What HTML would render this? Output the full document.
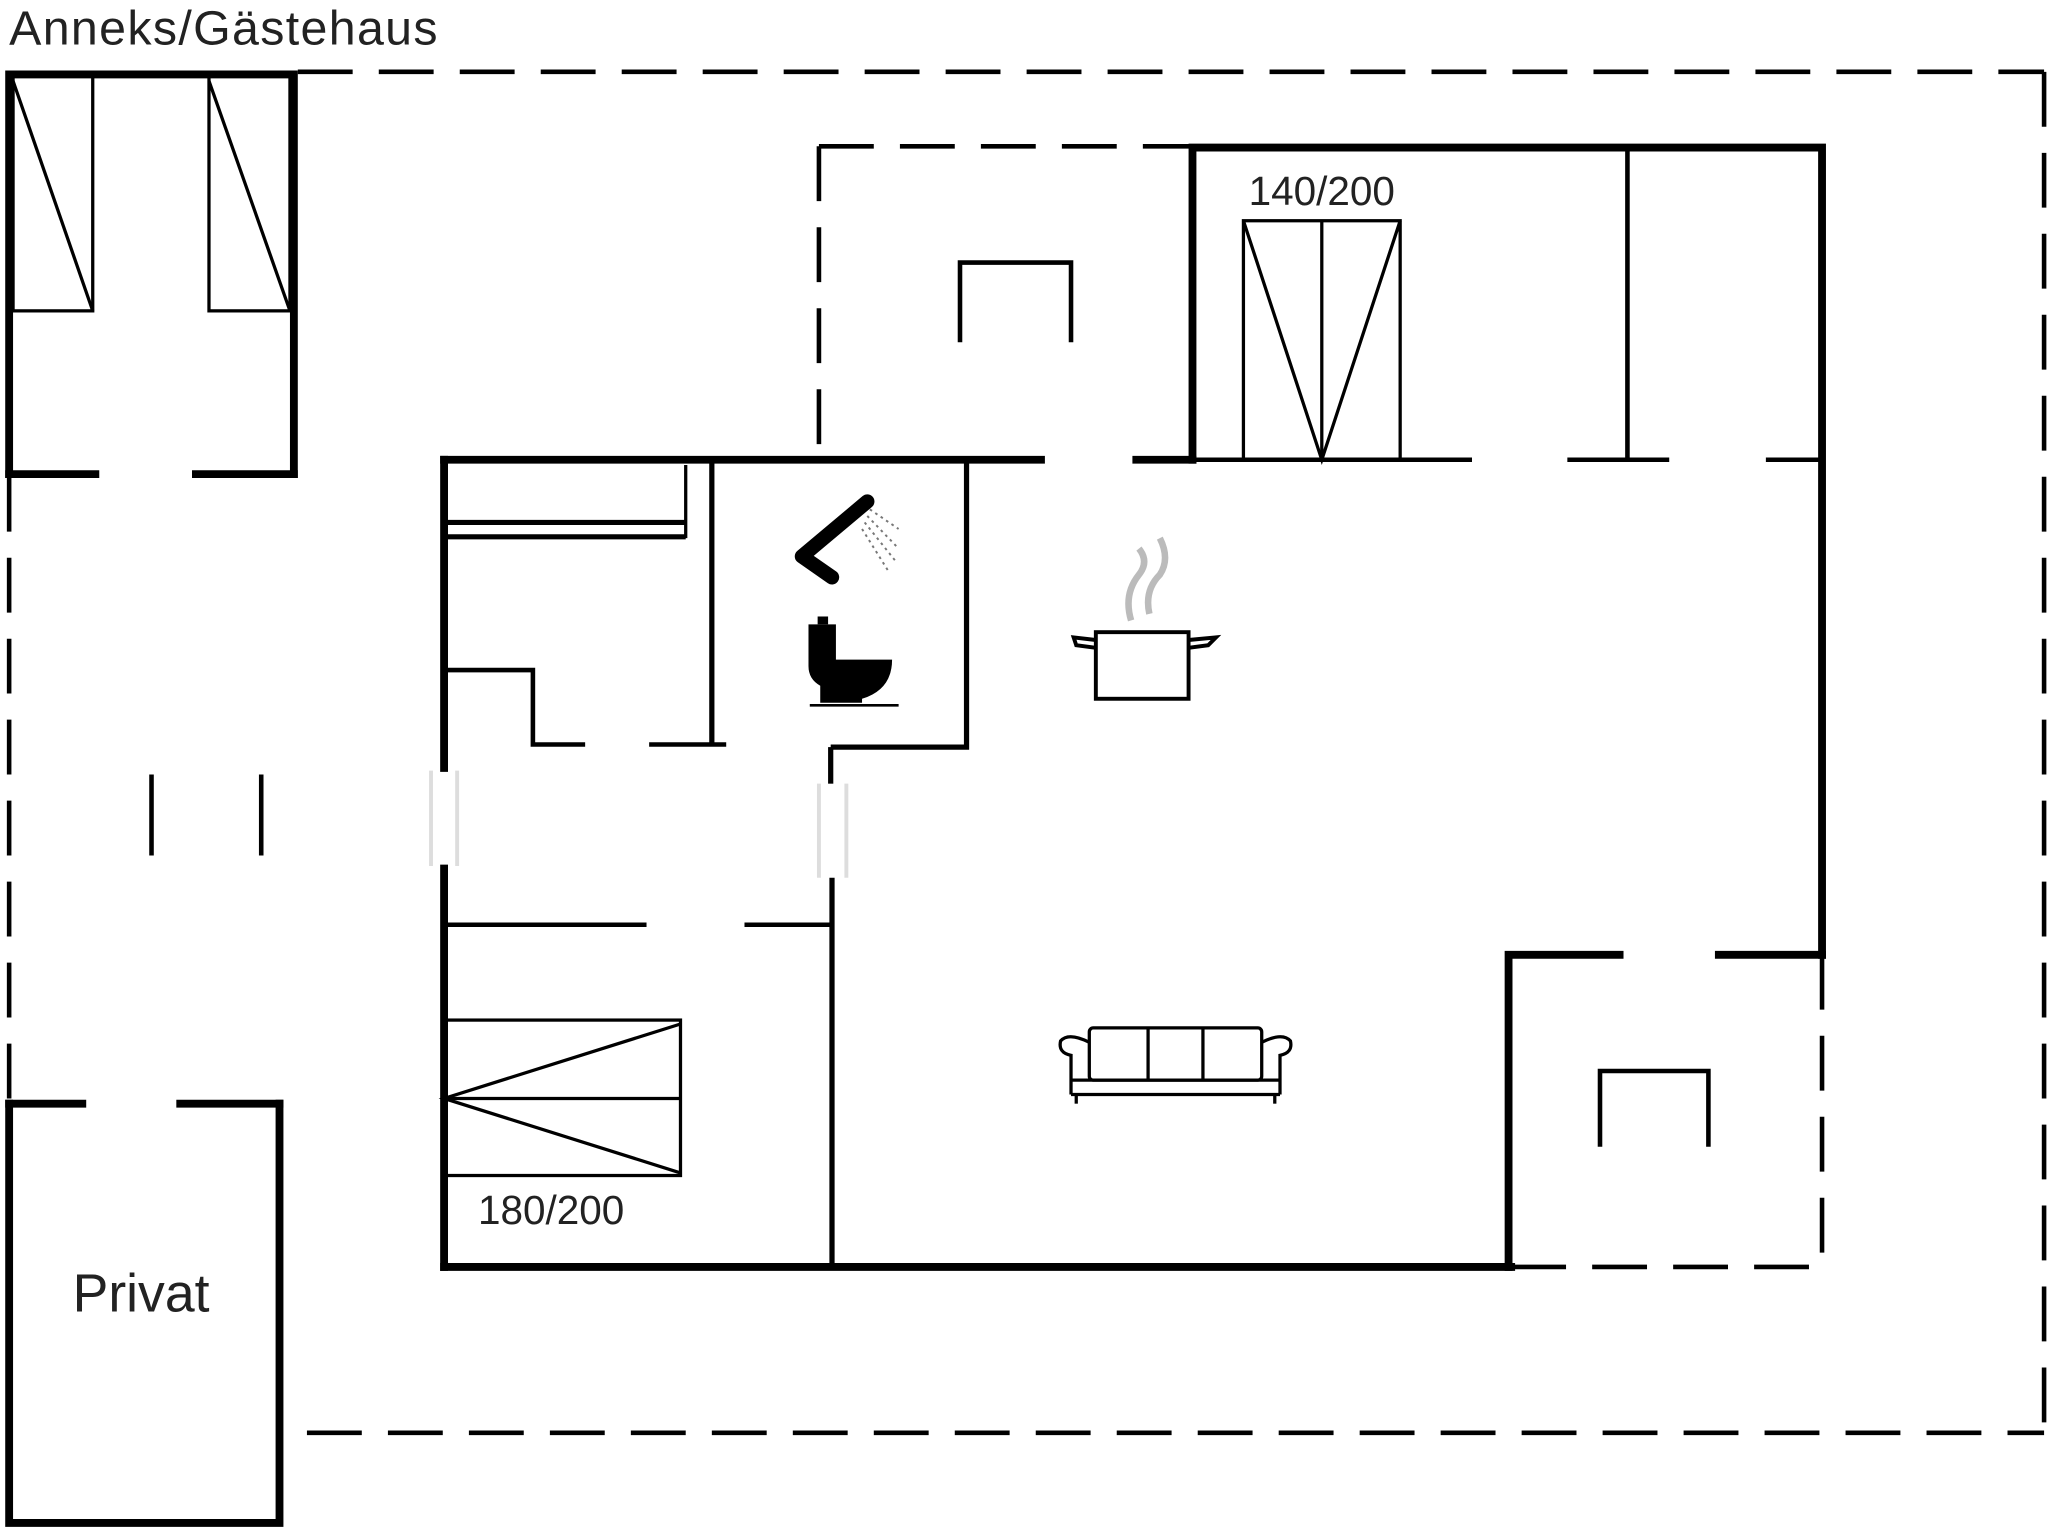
<!DOCTYPE html>
<html><head><meta charset="utf-8"><style>html,body{margin:0;padding:0;background:#fff}svg{display:block}</style></head><body>
<svg width="2048" height="1536" viewBox="0 0 1568 1176" xmlns="http://www.w3.org/2000/svg" font-family="Liberation Sans, Arial, sans-serif">
<rect width="1568" height="1176" fill="#fff"/>
<text x="7" y="34" font-size="37" fill="#222" textLength="328">Anneks/Gästehaus</text>
<g stroke="#000" fill="none" stroke-width="3.5" stroke-dasharray="42,20">
<line x1="228" y1="55" x2="1565" y2="55"/>
<line x1="1565" y1="55" x2="1565" y2="1097"/>
<line x1="235" y1="1097" x2="1565" y2="1097"/>
<line x1="7" y1="365" x2="7" y2="845"/>
<line x1="627" y1="112" x2="913" y2="112"/>
<line x1="627" y1="112" x2="627" y2="352"/>
<line x1="1395" y1="731" x2="1395" y2="970"/>
<line x1="1157" y1="970" x2="1395" y2="970"/>
</g>
<g stroke="#000" fill="none" stroke-width="6" stroke-linecap="square">
<polyline points="7,363 7,57 225,57 225,363"/>
<line x1="7" y1="363" x2="73" y2="363"/><line x1="150" y1="363" x2="225" y2="363"/>
<polyline points="7,845 7,1166 214,1166 214,845"/>
<line x1="7" y1="845" x2="63" y2="845"/><line x1="138" y1="845" x2="214" y2="845"/>
<line x1="340" y1="352" x2="797" y2="352"/><line x1="870" y1="352" x2="913" y2="352"/>
<line x1="340" y1="352" x2="340" y2="588"/><line x1="340" y1="665" x2="340" y2="970"/>
<line x1="340" y1="970" x2="1157" y2="970"/>
<polyline points="1155,970 1155,731 1240,731"/><line x1="1316" y1="731" x2="1395" y2="731"/>
<polyline points="1395,731 1395,113 913,113 913,352"/>
</g>
<g stroke="#000" fill="none" stroke-width="2.5">
<rect x="10" y="57" width="61" height="181"/><line x1="10" y1="62" x2="71" y2="238"/>
<rect x="160" y="57" width="62" height="181"/><line x1="160" y1="62" x2="222" y2="238"/>
<rect x="952" y="169" width="120" height="183"/><line x1="1012" y1="169" x2="1012" y2="352"/>
<polyline points="952,169 1012,352 1072,169"/>
<rect x="340" y="781" width="181" height="119"/><line x1="340" y1="841" x2="521" y2="841"/>
<polyline points="521,784 340,841 521,898"/>
<line x1="525" y1="356" x2="525" y2="412"/>
</g>
<g stroke="#000" fill="none" stroke-width="3.5">
<line x1="116" y1="593" x2="116" y2="655"/><line x1="200" y1="593" x2="200" y2="655"/>
<line x1="913" y1="352" x2="1127" y2="352"/><line x1="1200" y1="352" x2="1278" y2="352"/><line x1="1352" y1="352" x2="1395" y2="352"/>
<line x1="1246" y1="113" x2="1246" y2="352"/>
<polyline points="735,262 735,201 820,201 820,262"/>
<polyline points="1225,878 1225,820 1308,820 1308,878"/>
<line x1="340" y1="400" x2="525" y2="400" stroke-width="4"/><line x1="340" y1="411" x2="525" y2="411" stroke-width="4"/>
<line x1="545" y1="352" x2="545" y2="570" stroke-width="4"/>
<polyline points="340,513 408,513 408,570 448,570"/>
<line x1="497" y1="570" x2="556" y2="570"/>
<polyline points="636,572 740,572 740,352" stroke-width="4"/>
<line x1="636" y1="572" x2="636" y2="600" stroke-width="4"/>
<line x1="637" y1="672" x2="637" y2="970" stroke-width="4"/>
<line x1="340" y1="708" x2="495" y2="708"/><line x1="570" y1="708" x2="637" y2="708"/>
</g>
<g stroke="#ddd" stroke-width="3"><line x1="330" y1="590" x2="330" y2="663"/><line x1="350" y1="590" x2="350" y2="663"/><line x1="627" y1="600" x2="627" y2="672"/><line x1="648" y1="600" x2="648" y2="672"/></g>
<!-- shower -->
<path d="M664,384 L614,426 L637,442" stroke="#000" stroke-width="11" fill="none" stroke-linecap="round" stroke-linejoin="round"/>
<g stroke="#777" stroke-width="1.5" stroke-dasharray="2,3"><line x1="666" y1="390" x2="688" y2="405"/><line x1="664" y1="395" x2="688" y2="420"/><line x1="662" y1="400" x2="686" y2="430"/><line x1="660" y1="405" x2="680" y2="437"/></g>
<!-- toilet -->
<path d="M619,478 L640,478 L640,505 L683,505 Q683,528 660,535 L660,538 L628,538 L628,525 Q619,520 619,510 Z" fill="#000"/>
<rect x="626" y="472" width="8" height="6" fill="#000"/>
<line x1="620" y1="540" x2="688" y2="540" stroke="#000" stroke-width="2"/>
<!-- pot -->
<rect x="839" y="484" width="71" height="51" stroke="#000" stroke-width="3" fill="none"/>
<path d="M839,496 L824,494 L822,488 L839,490 M910,496 L925,494 L931,488 L910,490" stroke="#000" stroke-width="3" fill="none"/>
<path d="M866,475 Q860,455 872,440 Q880,430 872,420 M880,470 Q876,452 888,440 Q896,428 888,412" stroke="#bbb" stroke-width="5" fill="none"/>
<!-- sofa -->
<g stroke="#000" stroke-width="2.5" fill="none">
<rect x="834" y="787" width="132" height="40" rx="3"/>
<line x1="879" y1="787" x2="879" y2="827"/><line x1="921" y1="787" x2="921" y2="827"/>
<path d="M820,838 L820,808 Q810,806 812,797 Q818,790 834,798 M980,838 L980,808 Q990,806 988,797 Q982,790 966,798"/>
<path d="M820,838 L980,838 M820,827 L980,827"/>
<line x1="824" y1="838" x2="824" y2="845"/><line x1="976" y1="838" x2="976" y2="845"/>
</g>
<text x="1012" y="157" font-size="31" text-anchor="middle" fill="#222">140/200</text>
<text x="422" y="937" font-size="31" text-anchor="middle" fill="#222">180/200</text>
<text x="108" y="1004" font-size="41" text-anchor="middle" fill="#222">Privat</text>
</svg>
</body></html>
